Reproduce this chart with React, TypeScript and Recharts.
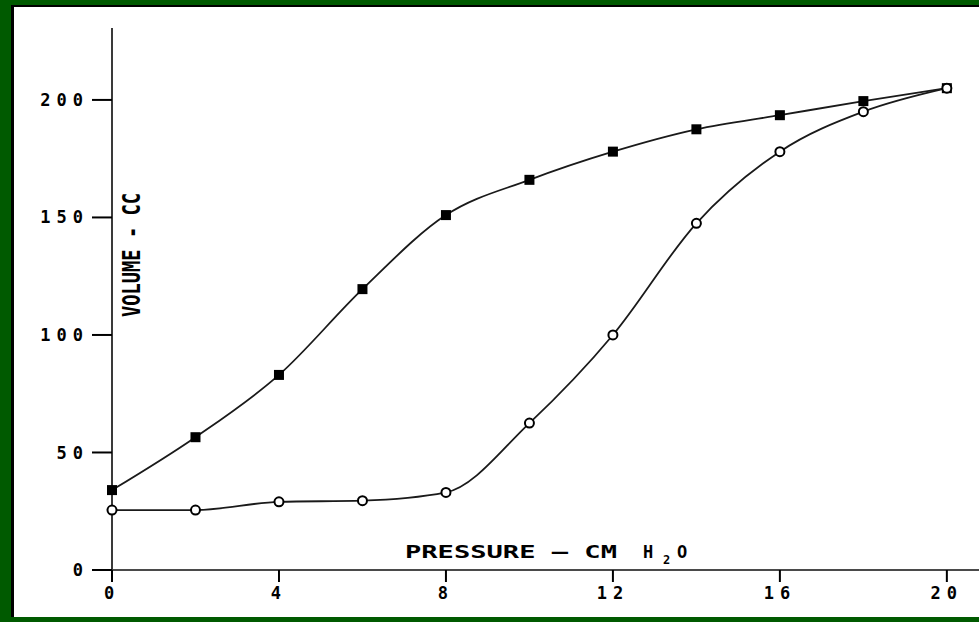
import React from "react";
import { LineChart, Line, XAxis, YAxis } from "recharts";

// pressure in cm H2O, volume in cc
const pressure = [0, 2, 4, 6, 8, 10, 12, 14, 16, 18, 20];
const deflationVolume = [34, 56.5, 83, 119.5, 151, 166, 178, 187.5, 193.5, 199.5, 205];
const inflationVolume = [25.5, 25.5, 29, 29.5, 33, 62.5, 100, 147.5, 178, 195, 205];
const xTicks = [0, 4, 8, 12, 16, 20];
const yTicks = [0, 50, 100, 150, 200];

const data = pressure.map((p, i) => ({
  p,
  deflation: deflationVolume[i],
  inflation: inflationVolume[i],
}));

const FONT = "'DejaVu Sans Mono', monospace";
const tickStyle = { fill: "#000", fontSize: 17, fontFamily: FONT, fontWeight: 700, letterSpacing: 6 };

function FilledSquare(props: any) {
  const { cx, cy } = props;
  if (cx == null || cy == null) return null;
  return <rect x={cx - 5} y={cy - 5} width={10} height={10} fill="#000" />;
}

function OpenCircle(props: any) {
  const { cx, cy } = props;
  if (cx == null || cy == null) return null;
  return <circle cx={cx} cy={cy} r={4.5} fill="#fff" stroke="#000" strokeWidth={2} />;
}

export default function App() {
  return (
    <div style={{ position: "absolute", left: 0, top: 0, width: 979, height: 622, background: "#005a00", overflow: "hidden" }}>
      <div
        style={{
          position: "absolute",
          left: 11,
          top: 5,
          right: 0,
          bottom: 5,
          background: "#fff",
          borderLeft: "3px solid #000",
          borderTop: "2px solid #000",
        }}
      />
      <div style={{ position: "absolute", left: 0, top: 0 }}>
        <LineChart width={979} height={622} data={data} margin={{ top: 28, right: 0, bottom: 0, left: 0 }}>
          <XAxis
            dataKey="p"
            type="number"
            domain={[0, 20.77]}
            ticks={xTicks}
            interval={0}
            height={52}
            tickSize={12}
            tickMargin={5}
            axisLine={{ stroke: "#4a4a4a", strokeWidth: 2 }}
            tickLine={{ stroke: "#000", strokeWidth: 2 }}
            tick={tickStyle}
          />
          <YAxis
            type="number"
            domain={[0, 230.6]}
            ticks={yTicks}
            interval={0}
            width={112}
            tickSize={20}
            tickMargin={3}
            axisLine={{ stroke: "#3a3a3a", strokeWidth: 2 }}
            tickLine={{ stroke: "#000", strokeWidth: 2 }}
            tick={tickStyle}
          />
          <Line
            type="monotone"
            dataKey="deflation"
            stroke="#1a1a1a"
            strokeWidth={1.8}
            dot={<FilledSquare />}
            activeDot={false}
            isAnimationActive={false}
          />
          <Line
            type="monotone"
            dataKey="inflation"
            stroke="#1a1a1a"
            strokeWidth={1.8}
            dot={<OpenCircle />}
            activeDot={false}
            isAnimationActive={false}
          />
        </LineChart>
      </div>
      <svg width={979} height={622} style={{ position: "absolute", left: 0, top: 0, pointerEvents: "none" }}>
        <text
          x={140}
          y={255}
          transform="rotate(-90, 140, 255)"
          textAnchor="middle"
          fontFamily={FONT}
          fontWeight={700}
          fontSize={24}
          textLength={124}
          lengthAdjust="spacingAndGlyphs"
          fill="#000"
        >
          VOLUME - CC
        </text>
        <text x={405} y={558} fontFamily={FONT} fontWeight={700} fontSize={17} fill="#000">
          <tspan textLength={212} lengthAdjust="spacingAndGlyphs">PRESSURE – CM</tspan>
          <tspan x={643}>H</tspan>
          <tspan x={663} dy={6} fontSize={12}>2</tspan>
          <tspan x={677} dy={-6}>O</tspan>
        </text>
      </svg>
    </div>
  );
}
